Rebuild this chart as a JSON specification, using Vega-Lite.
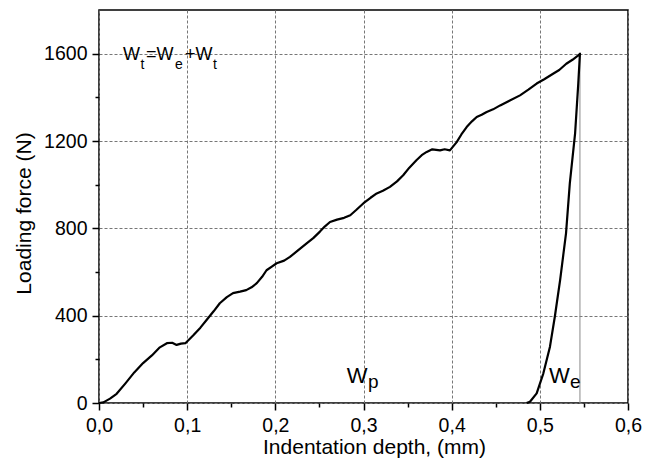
{
  "$schema": "https://vega.github.io/schema/vega-lite/v6.json",
  "width": 529,
  "height": 393,
  "autosize": {"type": "none"},
  "padding": {"left": 99, "top": 10, "right": 17, "bottom": 61},
  "background": "white",
  "config": {
    "view": {"stroke": "black", "strokeWidth": 1.5},
    "font": "Liberation Sans",
    "axis": {
      "labelFont": "Liberation Sans",
      "titleFont": "Liberation Sans",
      "labelFontSize": 19.5,
      "titleFontSize": 21,
      "titleFontWeight": "normal",
      "labelColor": "black",
      "titleColor": "black",
      "tickColor": "black",
      "tickWidth": 1.5,
      "domain": false,
      "grid": true,
      "gridColor": "#777777",
      "gridDash": [3, 2],
      "gridWidth": 1,
      "labelOverlap": false,
      "labelFlush": false
    }
  },
  "layer": [
    {
      "data": {"values": [{}]},
      "mark": {"type": "rule", "color": "#8a8a8a", "strokeWidth": 1},
      "encoding": {
        "x": {"datum": 0.5455, "type": "quantitative"},
        "y": {"datum": 0, "type": "quantitative"},
        "y2": {"datum": 1600}
      }
    },
    {
      "data": {
        "values": [
          {"i": 1, "d": 0, "f": 0},
          {"i": 2, "d": 0.005, "f": 3},
          {"i": 3, "d": 0.0125, "f": 20},
          {"i": 4, "d": 0.02, "f": 42},
          {"i": 5, "d": 0.03, "f": 90},
          {"i": 6, "d": 0.04, "f": 140},
          {"i": 7, "d": 0.05, "f": 183},
          {"i": 8, "d": 0.06, "f": 218},
          {"i": 9, "d": 0.069, "f": 255},
          {"i": 10, "d": 0.077, "f": 274},
          {"i": 11, "d": 0.083, "f": 276},
          {"i": 12, "d": 0.088, "f": 266},
          {"i": 13, "d": 0.093, "f": 272},
          {"i": 14, "d": 0.098, "f": 274},
          {"i": 15, "d": 0.107, "f": 310},
          {"i": 16, "d": 0.115, "f": 345},
          {"i": 17, "d": 0.122, "f": 380},
          {"i": 18, "d": 0.13, "f": 420},
          {"i": 19, "d": 0.137, "f": 457},
          {"i": 20, "d": 0.145, "f": 485},
          {"i": 21, "d": 0.152, "f": 503},
          {"i": 22, "d": 0.16, "f": 510},
          {"i": 23, "d": 0.167, "f": 517},
          {"i": 24, "d": 0.173, "f": 530},
          {"i": 25, "d": 0.179, "f": 549},
          {"i": 26, "d": 0.185, "f": 578},
          {"i": 27, "d": 0.19, "f": 608},
          {"i": 28, "d": 0.196, "f": 625},
          {"i": 29, "d": 0.2015, "f": 640},
          {"i": 30, "d": 0.21, "f": 652},
          {"i": 31, "d": 0.2166, "f": 669},
          {"i": 32, "d": 0.225, "f": 697},
          {"i": 33, "d": 0.2355, "f": 731},
          {"i": 34, "d": 0.243, "f": 755},
          {"i": 35, "d": 0.2506, "f": 785},
          {"i": 36, "d": 0.256, "f": 808},
          {"i": 37, "d": 0.262, "f": 829},
          {"i": 38, "d": 0.27, "f": 840},
          {"i": 39, "d": 0.278, "f": 848},
          {"i": 40, "d": 0.285, "f": 860},
          {"i": 41, "d": 0.292, "f": 885},
          {"i": 42, "d": 0.3, "f": 915},
          {"i": 43, "d": 0.308, "f": 940},
          {"i": 44, "d": 0.315, "f": 960},
          {"i": 45, "d": 0.322, "f": 972},
          {"i": 46, "d": 0.33, "f": 990},
          {"i": 47, "d": 0.338, "f": 1015},
          {"i": 48, "d": 0.345, "f": 1043},
          {"i": 49, "d": 0.352, "f": 1078},
          {"i": 50, "d": 0.36, "f": 1112},
          {"i": 51, "d": 0.366, "f": 1135},
          {"i": 52, "d": 0.3717, "f": 1150},
          {"i": 53, "d": 0.378, "f": 1162},
          {"i": 54, "d": 0.3868, "f": 1157},
          {"i": 55, "d": 0.392, "f": 1162},
          {"i": 56, "d": 0.398, "f": 1157},
          {"i": 57, "d": 0.4057, "f": 1195},
          {"i": 58, "d": 0.411, "f": 1230},
          {"i": 59, "d": 0.417, "f": 1264},
          {"i": 60, "d": 0.423, "f": 1290},
          {"i": 61, "d": 0.4284, "f": 1310},
          {"i": 62, "d": 0.434, "f": 1320},
          {"i": 63, "d": 0.4397, "f": 1333},
          {"i": 64, "d": 0.447, "f": 1345},
          {"i": 65, "d": 0.455, "f": 1363},
          {"i": 66, "d": 0.466, "f": 1385},
          {"i": 67, "d": 0.4775, "f": 1409},
          {"i": 68, "d": 0.487, "f": 1435},
          {"i": 69, "d": 0.4964, "f": 1463},
          {"i": 70, "d": 0.505, "f": 1483},
          {"i": 71, "d": 0.515, "f": 1508},
          {"i": 72, "d": 0.522, "f": 1525},
          {"i": 73, "d": 0.53, "f": 1554},
          {"i": 74, "d": 0.537, "f": 1572},
          {"i": 75, "d": 0.5436, "f": 1592},
          {"i": 76, "d": 0.5455, "f": 1600},
          {"i": 77, "d": 0.5436, "f": 1463},
          {"i": 78, "d": 0.54, "f": 1235},
          {"i": 79, "d": 0.534, "f": 1006},
          {"i": 80, "d": 0.5297, "f": 777},
          {"i": 81, "d": 0.523, "f": 563},
          {"i": 82, "d": 0.517, "f": 395},
          {"i": 83, "d": 0.5115, "f": 258},
          {"i": 84, "d": 0.504, "f": 136},
          {"i": 85, "d": 0.4964, "f": 44},
          {"i": 86, "d": 0.4888, "f": 6},
          {"i": 87, "d": 0.485, "f": 0}
        ]
      },
      "mark": {"type": "line", "color": "black", "strokeWidth": 2.2, "strokeJoin": "round"},
      "encoding": {
        "x": {
          "field": "d",
          "type": "quantitative",
          "scale": {"domain": [0, 0.6], "nice": false, "zero": false},
          "title": "Indentation depth, (mm)",
          "axis": {
            "values": [0, 0.05, 0.1, 0.15, 0.2, 0.25, 0.3, 0.35, 0.4, 0.45, 0.5, 0.55, 0.6],
            "labelExpr": "round(datum.value*100) % 10 === 0 ? replace(format(datum.value, '.1f'), '.', ',') : ''",
            "tickSize": {"condition": {"test": "round(datum.value*100) % 10 === 0", "value": 7}, "value": 4},
            "gridOpacity": {"condition": {"test": "round(datum.value*100) % 10 === 0", "value": 1}, "value": 0},
            "labelPadding": 6,
            "titlePadding": 2,
            "titleX": 275
          }
        },
        "y": {
          "field": "f",
          "type": "quantitative",
          "scale": {"domain": [0, 1800], "nice": false},
          "title": "Loading force (N)",
          "axis": {
            "values": [0, 200, 400, 600, 800, 1000, 1200, 1400, 1600],
            "labelExpr": "datum.value % 400 === 0 ? format(datum.value, 'd') : ''",
            "tickSize": {"condition": {"test": "datum.value % 400 === 0", "value": 7}, "value": 4},
            "gridOpacity": {"condition": {"test": "datum.value % 400 === 0", "value": 1}, "value": 0},
            "labelPadding": 5,
            "titlePadding": 9,
            "titleY": 203
          }
        },
        "order": {"field": "i", "type": "quantitative"}
      }
    },
    {
      "data": {"values": [{}]},
      "mark": {"type": "text", "align": "left", "baseline": "alphabetic", "fontSize": 18, "color": "black", "font": "Liberation Sans"},
      "encoding": {"x": {"datum": 0.0272, "type": "quantitative"}, "y": {"datum": 1569, "type": "quantitative"}, "text": {"value": "W"}}
    },
    {
      "data": {"values": [{}]},
      "mark": {"type": "text", "align": "left", "baseline": "alphabetic", "fontSize": 14, "color": "black", "font": "Liberation Sans"},
      "encoding": {"x": {"datum": 0.0471, "type": "quantitative"}, "y": {"datum": 1532, "type": "quantitative"}, "text": {"value": "t"}}
    },
    {
      "data": {"values": [{}]},
      "mark": {"type": "text", "align": "left", "baseline": "alphabetic", "fontSize": 18, "color": "black", "font": "Liberation Sans"},
      "encoding": {"x": {"datum": 0.0533, "type": "quantitative"}, "y": {"datum": 1569, "type": "quantitative"}, "text": {"value": "=W"}}
    },
    {
      "data": {"values": [{}]},
      "mark": {"type": "text", "align": "left", "baseline": "alphabetic", "fontSize": 14, "color": "black", "font": "Liberation Sans"},
      "encoding": {"x": {"datum": 0.0862, "type": "quantitative"}, "y": {"datum": 1532, "type": "quantitative"}, "text": {"value": "e"}}
    },
    {
      "data": {"values": [{}]},
      "mark": {"type": "text", "align": "left", "baseline": "alphabetic", "fontSize": 18, "color": "black", "font": "Liberation Sans"},
      "encoding": {"x": {"datum": 0.0975, "type": "quantitative"}, "y": {"datum": 1569, "type": "quantitative"}, "text": {"value": "+W"}}
    },
    {
      "data": {"values": [{}]},
      "mark": {"type": "text", "align": "left", "baseline": "alphabetic", "fontSize": 14, "color": "black", "font": "Liberation Sans"},
      "encoding": {"x": {"datum": 0.1293, "type": "quantitative"}, "y": {"datum": 1532, "type": "quantitative"}, "text": {"value": "t"}}
    },
    {
      "data": {"values": [{}]},
      "mark": {"type": "text", "align": "left", "baseline": "alphabetic", "fontSize": 22, "color": "black", "font": "Liberation Sans"},
      "encoding": {"x": {"datum": 0.2809, "type": "quantitative"}, "y": {"datum": 91.5, "type": "quantitative"}, "text": {"value": "W"}}
    },
    {
      "data": {"values": [{}]},
      "mark": {"type": "text", "align": "left", "baseline": "alphabetic", "fontSize": 19, "color": "black", "font": "Liberation Sans"},
      "encoding": {"x": {"datum": 0.3051, "type": "quantitative"}, "y": {"datum": 68.6, "type": "quantitative"}, "text": {"value": "p"}}
    },
    {
      "data": {"values": [{}]},
      "mark": {"type": "text", "align": "left", "baseline": "alphabetic", "fontSize": 22, "color": "black", "font": "Liberation Sans"},
      "encoding": {"x": {"datum": 0.5104, "type": "quantitative"}, "y": {"datum": 91.5, "type": "quantitative"}, "text": {"value": "W"}}
    },
    {
      "data": {"values": [{}]},
      "mark": {"type": "text", "align": "left", "baseline": "alphabetic", "fontSize": 19, "color": "black", "font": "Liberation Sans"},
      "encoding": {"x": {"datum": 0.5342, "type": "quantitative"}, "y": {"datum": 68.6, "type": "quantitative"}, "text": {"value": "e"}}
    }
  ]
}
